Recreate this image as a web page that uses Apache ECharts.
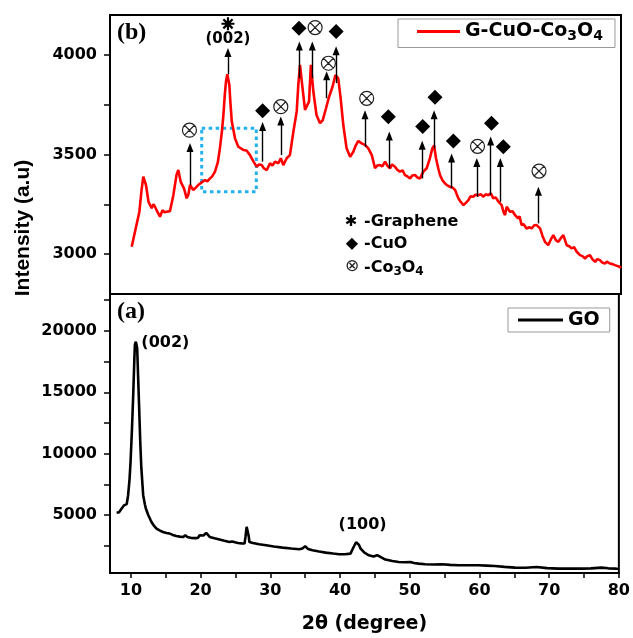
<!DOCTYPE html>
<html>
<head>
<meta charset="utf-8">
<script src="https://cdn.jsdelivr.net/npm/echarts@6/dist/echarts.min.js"></script>
<style>
  html, body { margin: 0; padding: 0; background: #fff; }
  #chart { width: 633px; height: 638px; }
</style>
</head>
<body>
<div id="chart"></div>
<script>
// (b) G-CuO-Co3O4 pattern
const gcuoTheta = [10.1, 10.57, 10.8, 11.2, 11.5, 11.76, 12.14, 12.5, 12.95, 13.2, 13.43, 13.76, 14.14, 14.5, 14.8, 15.1, 15.57, 16.05, 16.5, 16.76, 17.1, 17.57, 17.95, 18.2, 18.43, 18.9, 19.3, 19.6, 20.1, 20.57, 20.9, 21.3, 21.6, 22.0, 22.4, 22.7, 23.0, 23.2, 23.4, 23.57, 23.76, 24.05, 24.2, 24.4, 24.86, 25.33, 25.6, 26.05, 26.5, 27.0, 27.5, 27.95, 28.3, 28.67, 29.0, 29.4, 29.86, 30.2, 30.57, 31.05, 31.4, 31.76, 32.24, 32.7, 33.2, 33.67, 33.9, 34.14, 34.4, 34.86, 35.1, 35.43, 35.7, 36.05, 36.5, 37.0, 37.4, 37.86, 38.3, 38.8, 39.2, 39.6, 39.95, 40.33, 40.8, 41.3, 41.76, 42.1, 42.47, 42.95, 43.43, 43.9, 44.4, 44.86, 45.2, 45.57, 45.9, 46.3, 46.6, 47.0, 47.3, 47.7, 48.0, 48.4, 48.8, 49.14, 49.5, 49.86, 50.2, 50.57, 50.9, 51.3, 51.76, 52.24, 52.7, 53.05, 53.3, 53.57, 53.9, 54.14, 54.5, 54.86, 55.2, 55.57, 55.9, 56.3, 56.76, 57.1, 57.5, 57.9, 58.2, 58.5, 58.9, 59.2, 59.6, 60.0, 60.3, 60.7, 61.05, 61.4, 61.76, 62.1, 62.5, 62.95, 63.2, 63.43, 63.67, 63.9, 64.14, 64.5, 64.86, 65.3, 65.5, 65.8, 66.1, 66.5, 66.9, 67.24, 67.6, 67.95, 68.2, 68.43, 68.8, 69.14, 69.6, 70.0, 70.33, 70.7, 71.05, 71.4, 71.76, 72.0, 72.24, 72.6, 72.95, 73.3, 73.67, 74.14, 74.5, 74.86, 75.2, 75.57, 75.9, 76.3, 76.6, 77.0, 77.3, 77.7, 78.0, 78.4, 78.8, 79.14, 79.5, 79.86, 80.0];
const gcuoCounts = [3037, 3112, 3104, 3213, 3320, 3389, 3347, 3263, 3230, 3250, 3238, 3213, 3188, 3221, 3210, 3213, 3216, 3296, 3397, 3422, 3363, 3330, 3280, 3300, 3347, 3322, 3335, 3347, 3360, 3372, 3365, 3380, 3390, 3414, 3460, 3531, 3620, 3698, 3800, 3866, 3903, 3849, 3760, 3665, 3581, 3539, 3531, 3523, 3520, 3497, 3464, 3439, 3450, 3447, 3430, 3422, 3456, 3445, 3464, 3456, 3481, 3447, 3481, 3497, 3615, 3715, 3849, 3950, 3866, 3724, 3715, 3765, 3950, 3816, 3698, 3657, 3673, 3732, 3790, 3841, 3899, 3883, 3782, 3648, 3531, 3489, 3514, 3545, 3568, 3556, 3548, 3531, 3497, 3431, 3445, 3447, 3440, 3464, 3445, 3431, 3450, 3439, 3425, 3414, 3420, 3397, 3390, 3380, 3395, 3397, 3385, 3380, 3414, 3431, 3481, 3531, 3545, 3481, 3430, 3397, 3370, 3355, 3345, 3338, 3335, 3322, 3280, 3262, 3246, 3260, 3271, 3290, 3288, 3298, 3296, 3300, 3288, 3300, 3296, 3305, 3280, 3285, 3263, 3246, 3213, 3196, 3238, 3230, 3213, 3215, 3196, 3179, 3190, 3146, 3150, 3129, 3135, 3129, 3145, 3146, 3155, 3129, 3090, 3062, 3045, 3075, 3095, 3070, 3062, 3080, 3095, 3070, 3045, 3040, 3029, 3035, 3012, 2995, 2990, 2978, 2990, 2995, 2975, 2961, 2975, 2970, 2958, 2953, 2962, 2953, 2950, 2945, 2940, 2936, 2930];

// (a) GO pattern
const goTheta = [7.95, 8.3, 8.67, 9.0, 9.14, 9.4, 9.6, 9.8, 9.95, 10.15, 10.33, 10.5, 10.57, 10.71, 10.82, 10.9, 11.05, 11.2, 11.35, 11.5, 11.76, 12.0, 12.14, 12.5, 12.95, 13.3, 13.67, 14.1, 14.6, 15.1, 15.57, 16.0, 16.5, 17.0, 17.5, 17.8, 18.1, 18.67, 19.2, 19.6, 19.86, 20.1, 20.4, 20.8, 21.0, 21.3, 22.0, 22.7, 23.4, 24.14, 24.5, 24.7, 24.95, 25.33, 25.9, 26.3, 26.45, 26.6, 26.76, 26.9, 27.0, 27.5, 28.4, 29.4, 30.5, 31.76, 33.0, 34.14, 34.6, 35.0, 35.4, 36.05, 37.0, 37.95, 39.0, 39.86, 40.7, 41.5, 41.95, 42.3, 42.47, 42.7, 42.95, 43.5, 44.14, 44.8, 45.33, 45.6, 46.5, 47.5, 48.43, 49.3, 50.1, 50.6, 51.3, 52.2, 53.4, 54.6, 55.8, 57.0, 58.5, 59.86, 61.0, 62.2, 63.6, 65.1, 66.6, 68.2, 69.7, 71.3, 73.0, 74.6, 76.0, 77.5, 78.5, 79.6, 80.0];
const goCounts = [5200, 5250, 5546, 5800, 5872, 5900, 6630, 7900, 9344, 12000, 14780, 17800, 18855, 19124, 19000, 18586, 16000, 13420, 10800, 8806, 6630, 5900, 5546, 5000, 4454, 4150, 3916, 3770, 3640, 3560, 3508, 3400, 3313, 3260, 3232, 3370, 3230, 3150, 3140, 3150, 3370, 3427, 3350, 3557, 3450, 3232, 3120, 3020, 2920, 2824, 2870, 2963, 2800, 2742, 2710, 2694, 3300, 4050, 4000, 3300, 2824, 2742, 2640, 2555, 2460, 2367, 2290, 2229, 2300, 2474, 2260, 2148, 2050, 1960, 1880, 1822, 1830, 1878, 2416, 2800, 2824, 2600, 2286, 1950, 1740, 1640, 1750, 1660, 1390, 1270, 1194, 1170, 1194, 1120, 1063, 1006, 990, 1006, 960, 925, 930, 925, 900, 868, 800, 738, 730, 786, 700, 656, 660, 656, 680, 738, 680, 656, 650];

// axis ticks and labels
const xTicks = [10, 15, 20, 25, 30, 35, 40, 45, 50, 55, 60, 65, 70, 75, 80];
const xLabels = [10, 20, 30, 40, 50, 60, 70, 80];
const topYTicks = [3000, 3250, 3500, 3750, 4000];
const topYLabels = [3000, 3500, 4000];
const bottomYTicks = [2500, 5000, 7500, 10000, 12500, 15000, 17500, 20000, 22500];
const bottomYLabels = [5000, 10000, 15000, 20000];

// peak arrows: [2theta, base, head]
const peakArrows = [
  [18.43, 3347, 3535], [23.85, 3903, 4012], [28.8, 3464, 3640], [31.4, 3497, 3668],
  [34.05, 3883, 4045], [35.9, 3883, 4045], [37.95, 3782, 3895], [39.3, 3858, 4020],
  [43.43, 3539, 3700], [46.9, 3431, 3593], [51.6, 3380, 3546], [53.3, 3531, 3700],
  [55.8, 3330, 3482], [59.4, 3288, 3460], [61.38, 3296, 3568], [62.76, 3263, 3460],
  [68.2, 3154, 3316]
];
const cuoMarks = [[28.8, 3720], [34.0, 4134], [39.3, 4117], [46.76, 3690], [51.67, 3640], [53.43, 3787], [56.05, 3568], [61.5, 3657], [63.19, 3539]];
const co3o4Marks = [[18.35, 3622], [31.4, 3740], [36.3, 4137], [38.2, 3958], [43.67, 3782], [59.5, 3541], [68.29, 3417]];
const grapheneMarks = [[23.85, 4156]];
const topPeakLabels = [[23.85, 4078, '(002)']];
const bottomPeakLabels = [[11.5, 19059, '(002)', 'right'], [43.24, 4185, '(100)', 'inside']];
const zoomBox = [[20.1, 3632], [27.9, 3313]];

const SANS = '"DejaVu Sans"';
const ASTERISK = 'path://M50 0V100M0 50H100M14.6 14.6L85.4 85.4M85.4 14.6L14.6 85.4';
const OTIMES = 'path://M100 50A50 50 0 1 1 0 50A50 50 0 1 1 100 50ZM14.6 14.6L85.4 85.4M85.4 14.6L14.6 85.4';

const zip = (xs, ys) => xs.map((x, i) => [x, ys[i]]);

const chart = echarts.init(document.getElementById('chart'), null, { renderer: 'canvas' });

const tickLabel = {
  color: '#000', fontFamily: SANS, fontWeight: 'bold', fontSize: 16,
  formatter: (v) => String(v),
};

const option = {
  backgroundColor: '#fff',
  animation: false,
  grid: [
    { left: 110, top: 15, width: 511, height: 279, show: true, borderColor: '#000', borderWidth: 2, backgroundColor: 'transparent' },
    { left: 110, top: 294, width: 511, height: 279, show: true, borderColor: '#000', borderWidth: 2, backgroundColor: 'transparent' },
  ],
  xAxis: [
    {
      type: 'value', gridIndex: 0, min: 7, max: 80,
      axisLine: { show: false }, axisTick: { show: false }, axisLabel: { show: false }, splitLine: { show: false },
    },
    {
      type: 'value', gridIndex: 1, min: 7, max: 80,
      name: '2θ (degree)', nameLocation: 'middle', nameGap: 42,
      nameTextStyle: { color: '#000', fontFamily: SANS, fontWeight: 'bold', fontSize: 19 },
      axisLine: { show: true, onZero: false, lineStyle: { color: '#000', width: 2 } },
      axisTick: { show: true, inside: false, length: 5, customValues: xTicks, lineStyle: { color: '#000', width: 1.5 } },
      axisLabel: { ...tickLabel, margin: 10, customValues: xLabels },
      splitLine: { show: false },
    },
  ],
  yAxis: [
    {
      type: 'value', gridIndex: 0, min: 2800, max: 4200,
      axisLine: { show: true, onZero: false, lineStyle: { color: '#000', width: 2 } },
      axisTick: { show: true, inside: false, length: 6, customValues: topYTicks, lineStyle: { color: '#000', width: 1.5 } },
      axisLabel: { ...tickLabel, margin: 13, customValues: topYLabels },
      splitLine: { show: false },
    },
    {
      type: 'value', gridIndex: 1, min: 300, max: 23000,
      axisLine: { show: true, onZero: false, lineStyle: { color: '#000', width: 2 } },
      axisTick: { show: true, inside: false, length: 6, customValues: bottomYTicks, lineStyle: { color: '#000', width: 1.5 } },
      axisLabel: { ...tickLabel, margin: 13, customValues: bottomYLabels },
      splitLine: { show: false },
    },
  ],
  legend: [
    {
      data: ['G-CuO-Co3O4'], left: 398, top: 19, orient: 'horizontal',
      padding: [3, 12, 4, 19], itemWidth: 43, itemHeight: 3, icon: 'rect',
      borderColor: '#999', borderWidth: 1, backgroundColor: '#fff',
      formatter: () => '{n|G-CuO-Co}{s|3}{n|O}{s|4}',
      textStyle: {
        color: '#000',
        rich: {
          n: { fontFamily: SANS, fontWeight: 'bold', fontSize: 19, lineHeight: 24, verticalAlign: 'middle', color: '#000' },
          s: { fontFamily: SANS, fontWeight: 'bold', fontSize: 14, lineHeight: 14, verticalAlign: 'bottom', color: '#000' },
        },
      },
    },
    {
      data: ['GO'], left: 508, top: 308, orient: 'horizontal',
      padding: [2, 10, 2, 10], itemWidth: 45, itemHeight: 3, icon: 'rect',
      borderColor: '#999', borderWidth: 1, backgroundColor: '#fff',
      textStyle: { color: '#000', fontFamily: SANS, fontWeight: 'bold', fontSize: 19, lineHeight: 20 },
    },
  ],
  graphic: [
    { type: 'text', left: 117, top: 21, style: { text: '(b)', font: 'bold 24px "Liberation Serif"', fill: '#000' } },
    { type: 'text', left: 117, top: 300, style: { text: '(a)', font: 'bold 24px "Liberation Serif"', fill: '#000' } },
    {
      type: 'text', x: 23, y: 228, rotation: Math.PI / 2,
      style: { text: 'Intensity (a.u)', font: 'bold 21px "Liberation Sans"', fill: '#000', align: 'center', verticalAlign: 'middle' },
    },
    { type: 'text', x: 351, y: 222, style: { text: '✱', font: 'bold 15px "DejaVu Sans"', fill: '#000', align: 'center', verticalAlign: 'middle' } },
    { type: 'text', x: 364, y: 222, style: { text: '-Graphene', font: 'bold 16px "DejaVu Sans"', fill: '#000', verticalAlign: 'middle' } },
    { type: 'text', x: 352, y: 244, style: { text: '◆', font: '16px "DejaVu Sans"', fill: '#000', align: 'center', verticalAlign: 'middle' } },
    { type: 'text', x: 364, y: 244, style: { text: '-CuO', font: 'bold 16px "DejaVu Sans"', fill: '#000', verticalAlign: 'middle' } },
    { type: 'text', x: 352, y: 267, style: { text: '⊗', font: '17px "DejaVu Sans"', fill: '#222', align: 'center', verticalAlign: 'middle' } },
    {
      type: 'text', x: 364, y: 258,
      style: {
        text: '{n|-Co}{s|3}{n|O}{s|4}',
        rich: {
          n: { fontFamily: SANS, fontWeight: 'bold', fontSize: 16, lineHeight: 20, verticalAlign: 'middle', fill: '#000' },
          s: { fontFamily: SANS, fontWeight: 'bold', fontSize: 12, lineHeight: 12, verticalAlign: 'bottom', fill: '#000' },
        },
      },
    },
  ],
  series: [
    {
      name: 'G-CuO-Co3O4', type: 'line', xAxisIndex: 0, yAxisIndex: 0,
      data: zip(gcuoTheta, gcuoCounts), symbol: 'none', smooth: false,
      lineStyle: { color: '#ff0000', width: 2.6 }, itemStyle: { color: '#ff0000' },
      markLine: {
        silent: true, symbol: ['none', 'triangle'], symbolSize: [7, 9],
        label: { show: false },
        lineStyle: { color: '#000', width: 1.4, type: 'solid' },
        data: peakArrows.map(([x, base, tip]) => [{ coord: [x, base] }, { coord: [x, tip] }]),
      },
      markArea: {
        silent: true,
        itemStyle: { color: 'rgba(0,0,0,0)', borderColor: '#22b0ee', borderWidth: 3, borderType: [3.5, 3.5] },
        data: [[{ coord: zoomBox[0] }, { coord: zoomBox[1] }]],
      },
    },
    {
      name: 'GO', type: 'line', xAxisIndex: 1, yAxisIndex: 1,
      data: zip(goTheta, goCounts), symbol: 'none',
      lineStyle: { color: '#000', width: 2.6 }, itemStyle: { color: '#000' },
    },
    {
      type: 'scatter', xAxisIndex: 0, yAxisIndex: 0, silent: true, z: 5,
      data: cuoMarks, symbol: 'diamond', symbolSize: [15, 15], itemStyle: { color: '#000', opacity: 1 },
    },
    {
      type: 'scatter', xAxisIndex: 0, yAxisIndex: 0, silent: true, z: 5,
      data: co3o4Marks, symbol: OTIMES, symbolSize: 14,
      itemStyle: { color: 'rgba(0,0,0,0)', borderColor: '#222', borderWidth: 1.2, opacity: 1 },
    },
    {
      type: 'scatter', xAxisIndex: 0, yAxisIndex: 0, silent: true, z: 5,
      data: grapheneMarks, symbol: ASTERISK, symbolSize: 13,
      itemStyle: { color: 'rgba(0,0,0,0)', borderColor: '#000', borderWidth: 2.2, opacity: 1 },
    },
    {
      type: 'scatter', xAxisIndex: 0, yAxisIndex: 0, silent: true, z: 5, symbolSize: 0,
      itemStyle: { opacity: 1 },
      data: topPeakLabels.map(([x, y, t]) => ({ value: [x, y], name: t })),
      label: { show: true, position: 'inside', formatter: '{b}', color: '#000', textBorderWidth: 0, fontFamily: SANS, fontWeight: 'bold', fontSize: 15 },
    },
    {
      type: 'scatter', xAxisIndex: 1, yAxisIndex: 1, silent: true, z: 5, symbolSize: 0,
      itemStyle: { opacity: 1 },
      data: bottomPeakLabels.map(([x, y, t, pos]) => ({ value: [x, y], name: t, label: { position: pos, distance: 0 } })),
      label: { show: true, formatter: '{b}', color: '#000', textBorderWidth: 0, fontFamily: SANS, fontWeight: 'bold', fontSize: 16 },
    },
  ],
};

chart.setOption(option);
</script>
</body>
</html>
